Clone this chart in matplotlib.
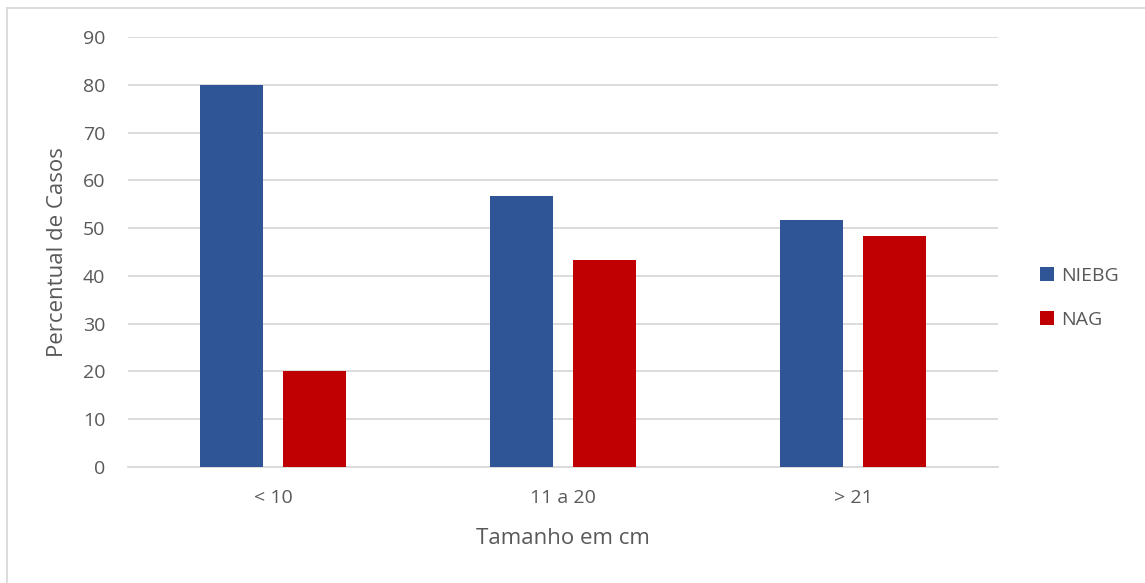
import matplotlib
matplotlib.use("Agg")
import matplotlib.pyplot as plt
from matplotlib.lines import Line2D
from matplotlib.patches import Patch
import numpy as np

categories = ["< 10", "11 a 20", "> 21"]
series_names = ["NIEBG", "NAG"]
niebg = [80.0, 56.7, 51.6]
nag = [20.0, 43.3, 48.4]
y_ticks = [0, 10, 20, 30, 40, 50, 60, 70, 80, 90]

plt.rcParams["font.family"] = ["Open Sans", "DejaVu Sans"]
text_color = "#595959"
grid_color = "#d9d9d9"
blue = "#2F5597"
red = "#C00000"

W, H = 1145, 583
fig = plt.figure(figsize=(W / 100, H / 100), dpi=100)
ax = fig.add_axes([128 / W, 1 - 467 / H, (998 - 128) / W, (467 - 37) / H])

x = np.arange(len(categories))
width = 0.22
offset = 0.143
ax.bar(x - offset, niebg, width, color=blue, zorder=3, label=series_names[0])
ax.bar(x + offset, nag, width, color=red, zorder=3, label=series_names[1])

ax.set_xlim(-0.5, len(categories) - 0.5)
ax.set_ylim(0, 90)
ax.set_yticks(y_ticks)
ax.yaxis.grid(True, color=grid_color, linewidth=1.3, zorder=0)
ax.set_axisbelow(True)
for s in ["top", "right", "left"]:
    ax.spines[s].set_visible(False)
ax.spines["bottom"].set_color(grid_color)
ax.spines["bottom"].set_linewidth(1.3)
ax.tick_params(axis="both", length=0, labelsize=14, labelcolor=text_color)
ax.tick_params(axis="y", pad=16.5)
ax.tick_params(axis="x", pad=16)
ax.set_xticks(x)
ax.set_xticklabels(categories)

# axis titles
fig.text(58 / W, 1 - 252 / H, "Percentual de Casos", rotation=90,
         ha="center", va="center", fontsize=16, color=text_color)
fig.text(563 / W, 1 - 538 / H, "Tamanho em cm",
         ha="center", va="center", fontsize=16, color=text_color)

handles = [Patch(facecolor=blue), Patch(facecolor=red)]
fig.legend(handles, series_names, loc="center left",
           bbox_to_anchor=(1040 / W, 1 - 298 / H), frameon=False,
           fontsize=14, labelcolor=text_color, handlelength=0.72,
           handleheight=0.72, handletextpad=0.35, labelspacing=1.35,
           borderpad=0, borderaxespad=0)

# chart area outline
fig.add_artist(Line2D([7 / W, 1.0], [1 - 8 / H, 1 - 8 / H], color=grid_color, linewidth=1.3))
fig.add_artist(Line2D([7 / W, 7 / W], [0.0, 1 - 8 / H], color=grid_color, linewidth=1.3))

fig.savefig("out.png", dpi=100, facecolor="white")
